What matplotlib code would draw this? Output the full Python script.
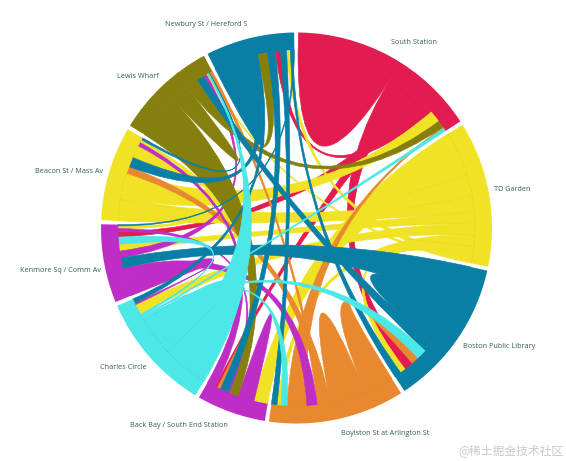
import numpy as np
import matplotlib
matplotlib.use("Agg")
import matplotlib.pyplot as plt
from matplotlib.path import Path
from matplotlib.patches import PathPatch, Wedge

group_names = ["South Station", "TD Garden", "Boston Public Library", "Boylston St at Arlington St",
               "Back Bay / South End Station", "Charles Circle", "Kenmore Sq / Comm Av",
               "Beacon St / Mass Av", "Lewis Wharf", "Newbury St / Hereford S"]
RED, YEL, BLU, ORG, PUR, CYA, OLI = "#E31C4F", "#F0E326", "#0A7FA6", "#E9892F", "#BE2EC6", "#4CE8E8", "#857F0E"
group_colors = [RED, YEL, BLU, ORG, PUR, CYA, PUR, YEL, OLI, BLU]
seam_colors = ["#E31C4F", "#d99a2c", "#0b6c90", "#c4722a", "#9a2aa0", "#2f9fa6", "#9a2aa0", "#c9a02c", "#6e690c", "#0b6c90"]

# clockwise list of (ribbon id, width) for every station
south_station = [("SS", 31.5), ("SS-BPL", 6), ("SS-BB", 4), ("SS-Ken", 4.5), ("SS-New", 2.5),
                 ("SS-Bea", 3.8), ("SS-Lew", 2.3), ("SS-Boy", .5), ("CC-SS", 1)]
td_garden = [("TD-BB", 14.5), ("TD", 7), ("TD-Bea", 5), ("TD-Ken", 3.5), ("TD-CC", 4),
             ("TD-Boy", 3.5), ("TD-BPL", 2.5), ("TD-New", 2), ("TD-Lew", 1)]
boston_library = [("BPL-Ken", 12.5), ("BPL", 15), ("BPL-Lew", 3.4), ("CC-BPL", 3.2), ("BPL-Boy", 2.5),
                  ("SS-BPL", 3), ("TD-BPL", 1.8), ("New-BPL", 2.2)]
boylston = [("BPL-Boy", 9.5), ("Boy", 11.8), ("Boy-Bea", 3), ("Boy-Lew", 1.2), ("Ken-Boy", 3.3), ("SS-Boy", 6.3),
            ("CC-Boy", 2), ("TD-Boy", 1.3), ("New-Boy", 1.8)]
back_bay = [("TD-BB", 4.5), ("BB", 5.3), ("Lew-BB", 2.7), ("Ken-BB", .9), ("New-BB", 2.5), ("Boy-BB", 1),
            ("SS-BB", .8), ("Bea-BB", 2.8)]
charles = [("CC-Lew", 15), ("CC", 12.6), ("CC-BPL", .7), ("CC-SS", .4), ("CC-Boy", .4), ("CC-Ken2", .6),
           ("TD-CC", 3.5), ("Ken-CC", .6), ("New-CC", 1.4)]
kenmore = [("Ken-CC", 5.6), ("Ken-Boy", 3.6), ("BPL-Ken", 3.3), ("Ken-Lew", 2.2), ("TD-Ken", 2.2),
           ("CC-Ken2", 2.3), ("SS-Ken", 1.7), ("Ken-BB", 1), ("Bea-Ken", .9), ("New-Ken", .4)]
beacon = [("TD-Bea", 6.9), ("SS-Bea", 8.6), ("Boy-Bea", 2.2), ("New-Bea", 3.2), ("Bea", 4.1),
          ("Bea-BB", 1.2), ("Bea-Ken", 1), ("Bea-Lew", .7)]
lewis = [("Lew-BB", 14.4), ("Lew", 6), ("SS-Lew", 2.6), ("Lew-New", 1.5), ("BPL-Lew", 2.3), ("Ken-Lew", 1),
         ("TD-Lew", .5), ("CC-Lew", .4), ("Bea-Lew", .3), ("Boy-Lew", 1)]
newbury = [("New", 9.4), ("New-Bea", 3.4), ("New-CC", 1.5), ("Lew-New", 3.2), ("New-BB", 2.6), ("SS-New", 1.6),
           ("New-Boy", 2), ("TD-New", 1.2), ("New-BPL", .8), ("New-Ken", .5)]
stations = [south_station, td_garden, boston_library, boylston, back_bay, charles, kenmore, beacon, lewis, newbury]
colour_override = {"Boy-BB": 3, "Lew-New": 8, "Bea-Lew": 9,
                   "CC-BPL": 5, "CC-SS": 5, "CC-Boy": 5, "CC-Ken2": 5}
draw_order = [0, 1, 7, 3, 4, 6, 8, 9, 2, 5]
seam_stations = [1, 3, 4, 5, 7, 9]

label_xy = [(414, 43), (512, 189), (499, 346), (385, 433), (179, 425), (123, 367), (60, 270), (69, 171), (138, 76), (206, 25)]

CX, CY, R_OUT, R_IN = 296.5, 228.0, 195.5, 178.5
GAP, START = 1.2, 0.5

fig = plt.figure(figsize=(5.66, 4.61), dpi=100)
ax = fig.add_axes([0, 0, 1, 1])
ax.set_xlim(0, 566)
ax.set_ylim(461, 0)
ax.axis("off")


def pt(deg, r):
    a = np.radians(deg)
    return CX + r * np.sin(a), CY - r * np.cos(a)


total = sum(w for s in stations for _, w in s)
scale = (360 - GAP * len(stations)) / total

DOT = (0, (1, 3.5))
ends = {}
angle = START
for g, subs in enumerate(stations):
    g0 = angle
    bounds = []
    for key, w in subs:
        a0, a1 = angle, angle + w * scale
        ends.setdefault(key, []).append((g, w, a0, a1))
        angle = a1
        bounds.append(a1)
    ax.add_patch(Wedge((CX, CY), R_OUT, g0 - 90, angle - 90, width=R_OUT - R_IN + 0.4,
                       fc=group_colors[g], ec="none", zorder=5))
    if g in seam_stations:
        xs, ys = zip(*[pt(t, R_IN) for t in np.linspace(g0, angle, 60)])
        ax.plot(xs, ys, color=seam_colors[g], lw=0.4, ls=DOT, zorder=6)
        for b, (key, w) in zip(bounds[:-1], subs):
            if w > 3:
                xs, ys = zip(*[pt(b, r) for r in np.linspace(R_IN, R_IN * 0.62, 12)])
                ax.plot(xs, ys, color=seam_colors[g], lw=0.35, ls=DOT, zorder=6)
    angle += GAP


def arc(a0, a1):
    n = max(2, int(abs(a1 - a0)) * 2 + 2)
    return [pt(t, R_IN) for t in np.linspace(a0, a1, n)]


def ribbon(e0, e1):
    _, _, a0, a1 = e0
    s = arc(a0, a1)
    verts, codes = list(s), [Path.MOVETO] + [Path.LINETO] * (len(s) - 1)
    if e1 is not e0:
        _, _, b0, b1 = e1
        t = arc(b0, b1)
        verts += [(CX, CY), t[0]] + t[1:]
        codes += [Path.CURVE3, Path.CURVE3] + [Path.LINETO] * (len(t) - 1)
    verts += [(CX, CY), pt(a0, R_IN)]
    codes += [Path.CURVE3, Path.CURVE3]
    return Path(verts, codes)


items = []
for key, e in ends.items():
    e0 = e[0]
    e1 = e[1] if len(e) > 1 else e[0]
    owner = colour_override.get(key, e0[0] if e0[1] >= e1[1] else e1[0])
    items.append((draw_order.index(owner), owner, e0, e1))
items.sort(key=lambda x: x[0])
for z, (_, owner, e0, e1) in enumerate(items):
    ax.add_patch(PathPatch(ribbon(e0, e1), fc=group_colors[owner], ec=group_colors[owner], lw=0.45,
                           zorder=2 + z * 0.01))

for name, (x, y) in zip(group_names, label_xy):
    ax.text(x, y, name, ha="center", va="center", fontsize=5.2, color="#33604a", family="Open Sans")

ax.text(511, 451, "@稀土掘金技术社区", ha="center", va="center", fontsize=8.5, color="#c9c9c9",
        family=["Noto Sans CJK SC", "DejaVu Sans"])
fig.savefig("out.png", dpi=100)
